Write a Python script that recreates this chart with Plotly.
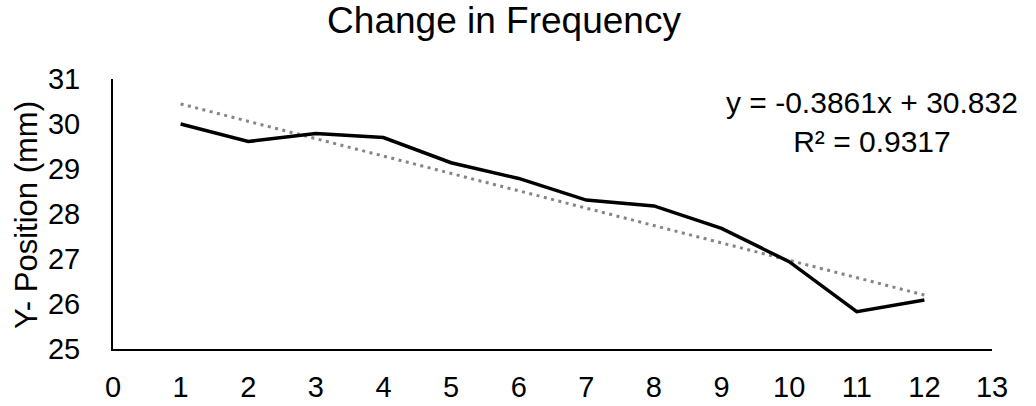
import plotly.graph_objects as go

# Measured y-position per step
steps = [1, 2, 3, 4, 5, 6, 7, 8, 9, 10, 11, 12]
y_position = [30.00, 29.61, 29.79, 29.70, 29.14, 28.79, 28.31, 28.18, 27.68, 26.94, 25.83, 26.09]

# Linear trendline coefficients (as shown in the equation label)
slope = -0.3861
intercept = 30.832
r_squared = 0.9317

x_ticks = list(range(0, 14))
y_ticks = list(range(25, 32))

trend_x = [steps[0], steps[-1]]
trend_y = [slope * x + intercept for x in trend_x]

fig = go.Figure()

fig.add_trace(go.Scatter(
    x=trend_x, y=trend_y, mode="lines",
    line=dict(color="#858585", width=3, dash="3px,4.5px"),
    hoverinfo="skip", showlegend=False,
))

fig.add_trace(go.Scatter(
    x=steps, y=y_position, mode="lines",
    line=dict(color="#000000", width=3.5),
    showlegend=False,
))

font_family = "Liberation Sans, Arial, sans-serif"
plot_left, plot_right = 113, 992
plot_top, plot_bottom = 79, 349

# Trendline equation box
fig.add_annotation(
    xref="paper", yref="paper",
    x=(872 - plot_left) / (plot_right - plot_left),
    y=(plot_bottom - 84) / (plot_bottom - plot_top),
    text=f"y = {slope:.4f}x + {intercept:.3f}<br>R² = {r_squared:.4f}",
    showarrow=False, align="center", xanchor="center", yanchor="top",
    font=dict(family=font_family, size=30, color="#000000"),
)

# Vertical axis title
fig.add_annotation(
    xref="paper", yref="paper",
    x=(26 - plot_left) / (plot_right - plot_left),
    y=(plot_bottom - 215) / (plot_bottom - plot_top),
    text="Y- Position (mm)", textangle=-90,
    showarrow=False, xanchor="center", yanchor="middle",
    font=dict(family=font_family, size=31, color="#000000"),
)

fig.update_layout(
    width=1036, height=406,
    margin=dict(l=plot_left, r=1036 - plot_right, t=plot_top, b=406 - plot_bottom,
                autoexpand=False),
    paper_bgcolor="white", plot_bgcolor="white",
    font=dict(family=font_family, color="#000000"),
    title=dict(
        text="Change in Frequency",
        x=504 / 1036, xref="container", xanchor="center",
        y=1 - 7 / 406, yref="container", yanchor="top",
        font=dict(family=font_family, size=37, color="#000000"),
    ),
    xaxis=dict(
        range=[0, 13], tickvals=x_ticks, ticktext=[str(v) for v in x_ticks],
        showgrid=False, zeroline=False,
        showline=True, linecolor="#000000", linewidth=2,
        ticks="", ticklabelstandoff=11,
        tickfont=dict(family=font_family, size=29, color="#000000"),
        automargin=False,
    ),
    yaxis=dict(
        range=[25, 31], tickvals=y_ticks, ticktext=[str(v) for v in y_ticks],
        showgrid=False, zeroline=False,
        showline=True, linecolor="#000000", linewidth=2,
        ticks="", ticklabelstandoff=25,
        tickfont=dict(family=font_family, size=29, color="#000000"),
        automargin=False,
    ),
)

fig.write_html("out.html")
